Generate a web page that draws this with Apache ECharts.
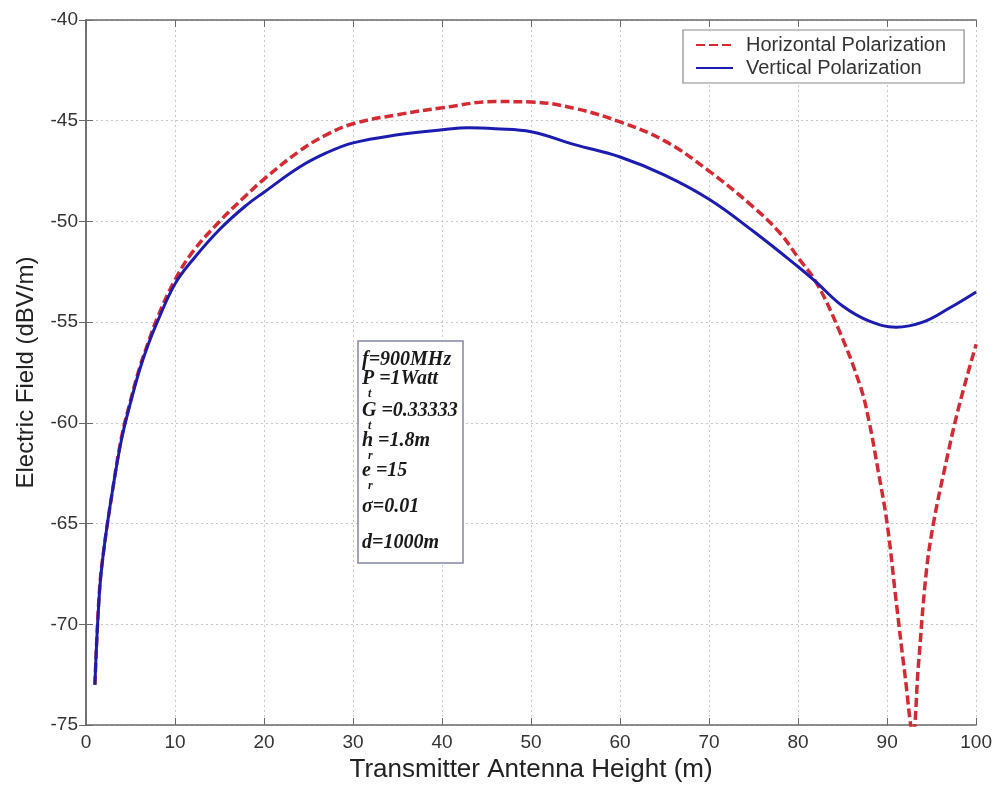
<!DOCTYPE html>
<html>
<head>
<meta charset="utf-8">
<script src="https://cdn.jsdelivr.net/npm/echarts@6/dist/echarts.min.js"></script>
<style>
html,body{margin:0;padding:0;background:#fff;}
#chart{width:995px;height:788px;}
</style>
</head>
<body>
<div id="chart"></div>
<script>
// Horizontal polarization (red dashed)
const hX = [1, 1.5, 2, 3, 4, 5, 6, 7, 8, 10, 12, 15, 18, 20, 24, 27, 30, 35, 40, 46, 50, 55, 60, 65, 70, 75, 78, 80, 82, 84.5, 87, 88, 89, 90, 91, 92, 92.9, 93.5, 94.4, 95.2, 96.5, 98, 100];
const hY = [-73, -68.4, -66.3, -63.3, -60.7, -58.9, -57.3, -56.0, -54.8, -52.9, -51.5, -50.0, -48.7, -47.9, -46.5, -45.7, -45.15, -44.7, -44.36, -44.05, -44.07, -44.4, -45.06, -46.0, -47.5, -49.3, -50.6, -51.8, -53.0, -55.3, -58.2, -60.0, -62.4, -65.0, -68.8, -72.5, -75.4, -72.1, -67.4, -65.0, -62.2, -59.3, -56.1];
// Vertical polarization (blue solid)
const vX = [1, 1.5, 2, 3, 4, 5, 6, 7, 8, 10, 12, 15, 18, 20, 24, 27, 30, 35, 40, 43, 46, 50, 55, 60, 65, 70, 75, 80, 82, 85, 88, 91, 94, 97, 100];
const vY = [-73, -68.5, -66.3, -63.3, -60.8, -59.0, -57.4, -56.1, -55.0, -53.1, -51.9, -50.4, -49.2, -48.55, -47.3, -46.6, -46.1, -45.7, -45.45, -45.35, -45.4, -45.55, -46.2, -46.8, -47.7, -48.9, -50.5, -52.25, -53.0, -54.2, -54.95, -55.25, -55.0, -54.3, -53.5];
const seriesNames = ['Horizontal Polarization', 'Vertical Polarization'];
const xTitle = 'Transmitter Antenna Height (m)';
const yTitle = 'Electric Field (dBV/m)';

const chart = echarts.init(document.getElementById('chart'));
const axisColor = '#6a6a6a';
const gridLine = {show: true, lineStyle: {color: '#c8c8c8', type: [2, 3], width: 1}};
const fontSans = 'Liberation Sans, Arial, sans-serif';
const serif = 'Liberation Serif, Times New Roman, serif';

const ann = [
  ['f', '=900MHz', '', 360],
  ['P', '=1Watt', 't', 379],
  ['G', '=0.33333', 't', 411],
  ['h', '=1.8m', 'r', 441],
  ['e', '=15', 'r', 471],
  ['σ', '=0.01', '', 507],
  ['d', '=1000m', '', 543]
];
const annEls = [{
  type: 'rect', shape: {x: 358, y: 341, width: 105, height: 222},
  style: {fill: '#fff', stroke: '#8286a8', lineWidth: 1.5}, z: 100
}];
ann.forEach(a => {
  const hasSub = a[2] !== '';
  annEls.push({type: 'text', x: 362, y: a[3], z: 101,
    style: {text: a[0] + (hasSub ? ' ' : '') + a[1], font: 'italic bold 20px ' + serif, fill: '#1a1a1a', verticalAlign: 'middle'}});
  if (hasSub) {
    annEls.push({type: 'text', x: 368, y: a[3] + 15, z: 101,
      style: {text: a[2], font: 'italic bold 12px ' + serif, fill: '#1a1a1a', verticalAlign: 'middle'}});
  }
});

chart.setOption({
  animation: false,
  backgroundColor: '#fff',
  grid: {left: 86, right: 17, top: 20, bottom: 62},
  legend: {
    data: seriesNames, orient: 'vertical', left: 683, top: 30,
    backgroundColor: '#fff', borderColor: '#8a8a8a', borderWidth: 1.2,
    padding: [5, 18, 5, 12], itemWidth: 37, itemHeight: 14, itemGap: 3,
    itemStyle: {opacity: 0},
    textStyle: {fontSize: 20, color: '#333', fontFamily: fontSans, padding: [0, 0, 0, 8]}
  },
  xAxis: [{
    type: 'value', min: 0, max: 100, interval: 10, position: 'bottom',
    axisLine: {show: true, lineStyle: {color: axisColor, width: 1.5}},
    axisTick: {show: true, inside: true, length: 7, lineStyle: {color: axisColor}},
    axisLabel: {color: '#333', fontSize: 19, margin: 8, fontFamily: fontSans},
    splitLine: gridLine,
    name: xTitle, nameLocation: 'middle', nameGap: 32,
    nameTextStyle: {fontSize: 26, color: '#222', fontFamily: fontSans}
  }, {
    type: 'value', min: 0, max: 100, interval: 10, position: 'top',
    axisLine: {show: true, lineStyle: {color: axisColor, width: 1.5}},
    axisTick: {show: true, inside: true, length: 7, lineStyle: {color: axisColor}},
    axisLabel: {show: false}, splitLine: {show: false}
  }],
  yAxis: [{
    type: 'value', min: -75, max: -40, interval: 5, position: 'left',
    axisLine: {show: true, lineStyle: {color: axisColor, width: 1.5}},
    axisTick: {show: true, inside: true, length: 7, lineStyle: {color: axisColor}},
    axisLabel: {color: '#333', fontSize: 19, margin: 8, fontFamily: fontSans},
    splitLine: gridLine,
    name: yTitle, nameLocation: 'middle', nameGap: 48,
    nameTextStyle: {fontSize: 24, color: '#222', fontFamily: fontSans}
  }, {
    type: 'value', min: -75, max: -40, interval: 5, position: 'right',
    axisLine: {show: true, lineStyle: {color: axisColor, width: 1.5}},
    axisTick: {show: true, inside: true, length: 7, lineStyle: {color: axisColor}},
    axisLabel: {show: false}, splitLine: {show: false}
  }],
  series: [{
    name: seriesNames[0], type: 'line', symbol: 'none', smooth: 0.4,
    data: hX.map((x, i) => [x, hY[i]]),
    lineStyle: {color: '#d42a34', width: 3.5, type: [9, 4]},
    itemStyle: {color: '#d42a34'}
  }, {
    name: seriesNames[1], type: 'line', symbol: 'none', smooth: 0.4,
    data: vX.map((x, i) => [x, vY[i]]),
    lineStyle: {color: '#1c1cb0', width: 3},
    itemStyle: {color: '#1c1cb0'}
  }],
  graphic: annEls
});
</script>
</body>
</html>
